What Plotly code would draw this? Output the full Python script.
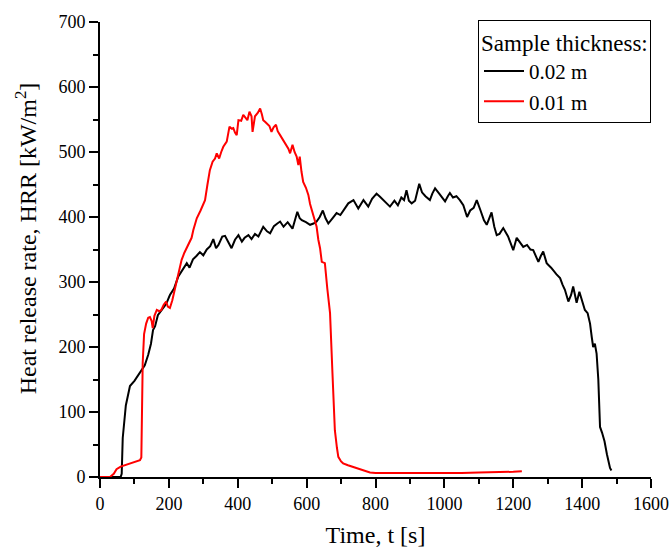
import plotly.graph_objects as go

t_thick = [0, 30, 60, 63, 66, 75, 87, 100, 116, 130, 140, 148, 154, 160, 168, 180, 192, 203, 215, 227, 240, 252, 260, 270, 280, 290, 300, 310, 320, 329, 337, 344, 355, 363, 372, 382, 392, 402, 412, 420, 431, 440, 450, 460, 474, 485, 494, 505, 515, 523, 533, 545, 559, 566, 573, 580, 586, 598, 610, 620, 629, 638, 647, 655, 663, 675, 687, 698, 710, 721, 736, 750, 765, 779, 790, 803, 813, 823, 832, 842, 855, 865, 875, 883, 890, 897, 905, 915, 927, 935, 945, 958, 965, 973, 985, 995, 1002, 1010, 1016, 1025, 1035, 1045, 1055, 1066, 1075, 1085, 1094, 1105, 1115, 1123, 1130, 1137, 1145, 1152, 1160, 1171, 1185, 1200, 1210, 1220, 1229, 1240, 1250, 1258, 1265, 1273, 1280, 1287, 1297, 1310, 1325, 1336, 1343, 1350, 1360, 1368, 1374, 1384, 1392, 1399, 1408, 1416, 1423, 1428, 1432, 1437, 1442, 1447, 1452, 1458, 1465, 1472, 1481, 1485]
hrr_thick = [0, 0, 0, 5, 60, 110, 140, 148, 160, 172, 188, 205, 226, 232, 249, 258, 266, 280, 290, 308, 318, 329, 322, 335, 340, 346, 341, 350, 355, 366, 352, 357, 370, 371, 362, 352, 365, 372, 362, 368, 372, 366, 374, 370, 385, 378, 375, 386, 390, 393, 385, 392, 382, 395, 408, 398, 395, 392, 388, 390, 393, 400, 410, 398, 390, 398, 406, 403, 412, 421, 426, 413, 426, 416, 428, 436, 431, 426, 422, 416, 425, 418, 430, 426, 441, 425, 421, 425, 451, 438, 432, 426, 436, 444, 436, 428, 424, 432, 437, 430, 432, 426, 418, 400, 410, 414, 426, 410, 395, 388, 398, 407, 385, 372, 374, 383, 370, 349, 368, 360, 354, 357, 350, 349, 340, 331, 340, 347, 329, 322, 312, 306, 296, 288, 270, 280, 293, 268, 285, 272, 257, 252, 236, 215, 200, 205, 190, 150, 77, 68, 55, 35, 14, 10]

t_thin = [0, 29, 40, 48, 60, 75, 87, 100, 110, 116, 120, 122, 124, 128, 134, 140, 145, 150, 153, 158, 165, 172, 178, 185, 192, 197, 203, 210, 218, 225, 231, 237, 245, 252, 256, 266, 271, 281, 292, 305, 312, 319, 327, 334, 339, 346, 352, 358, 368, 376, 382, 387, 392, 397, 402, 410, 416, 422, 428, 434, 440, 443, 450, 458, 465, 470, 474, 480, 485, 492, 498, 504, 511, 516, 523, 530, 536, 542, 547, 552, 559, 565, 571, 576, 580, 585, 590, 598, 605, 610, 615, 622, 629, 634, 639, 644, 650, 653, 660, 668, 675, 682, 688, 692, 700, 706, 720, 745, 765, 784, 800, 813, 850, 900, 950, 1000, 1050, 1100, 1150, 1200, 1225]
hrr_thin = [0, 0, 5, 12, 16, 19, 21, 24, 25, 26, 30, 100, 175, 220, 236, 245, 246, 240, 229, 248, 257, 255, 257, 265, 270, 262, 260, 272, 290, 306, 322, 334, 345, 352, 357, 368, 380, 398, 410, 426, 450, 472, 485, 490, 498, 490, 500, 508, 516, 539, 536, 537, 530, 526, 549, 548, 557, 552, 549, 562, 555, 531, 555, 560, 567, 558, 549, 546, 544, 540, 531, 538, 542, 532, 526, 520, 515, 511, 505, 498, 511, 500, 493, 480, 493, 470, 454, 445, 434, 420, 411, 398, 385, 365, 352, 331, 330, 329, 290, 252, 160, 72, 45, 31, 24, 21, 18, 14, 10, 7, 6, 6, 5, 6, 5, 6, 6, 7, 7, 8, 9]

series_names = ["0.02 m", "0.01 m"]
legend_title = "Sample thickness:"
x_title = "Time, t [s]"
y_title = "Heat release rate, HRR [kW/m<sup>2</sup>]"

SERIF = "Liberation Serif"

fig = go.Figure()
fig.add_trace(go.Scatter(x=t_thick, y=hrr_thick, mode="lines", name=series_names[0],
                         line=dict(color="#000000", width=2)))
fig.add_trace(go.Scatter(x=t_thin, y=hrr_thin, mode="lines", name=series_names[1],
                         line=dict(color="#ff0000", width=2)))

W, H = 671, 548
fig.update_layout(
    template="simple_white",
    width=W, height=H,
    margin=dict(l=100, r=20, t=22, b=71, autoexpand=False),
    plot_bgcolor="white", paper_bgcolor="white",
    font=dict(family=SERIF, size=18, color="black"),
    xaxis=dict(range=[0, 1600], dtick=200, tick0=0,
               showline=True, linecolor="black", linewidth=2, mirror=False,
               ticks="outside", ticklen=9, tickwidth=1.5, tickcolor="black",
               showgrid=False, zeroline=False, automargin=False,
               tickfont=dict(family=SERIF, size=18, color="black"),
               title=dict(text=x_title, font=dict(family=SERIF, size=24, color="black"), standoff=16),
               minor=dict(dtick=100, ticks="outside", ticklen=5, tickwidth=1.5, tickcolor="black")),
    yaxis=dict(range=[0, 700], dtick=100, tick0=0,
               showline=True, linecolor="black", linewidth=2, mirror=False,
               ticks="outside", ticklen=9, tickwidth=1.5, tickcolor="black",
               showgrid=False, zeroline=False, automargin=False,
               tickfont=dict(family=SERIF, size=18, color="black"),
               minor=dict(dtick=50, ticks="outside", ticklen=5, tickwidth=1.5, tickcolor="black")),
    legend=dict(title=dict(text=legend_title, font=dict(family=SERIF, size=23, color="black")),
                font=dict(family=SERIF, size=21, color="black"),
                xref="container", yref="container",
                x=651 / W, xanchor="right", y=1 - 20 / H, yanchor="top",
                bordercolor="black", borderwidth=1, bgcolor="white",
                tracegroupgap=0, itemwidth=40),
    showlegend=True,
)

fig.add_annotation(text=y_title, textangle=-90, xref="paper", yref="paper",
                   x=-0.134, y=0.525, xanchor="center", yanchor="middle", showarrow=False,
                   font=dict(family=SERIF, size=24, color="black"))

fig.write_html("out.html", config={"displayModeBar": False},
               post_script="document.body.style.margin='0';document.body.style.overflow='hidden';")
